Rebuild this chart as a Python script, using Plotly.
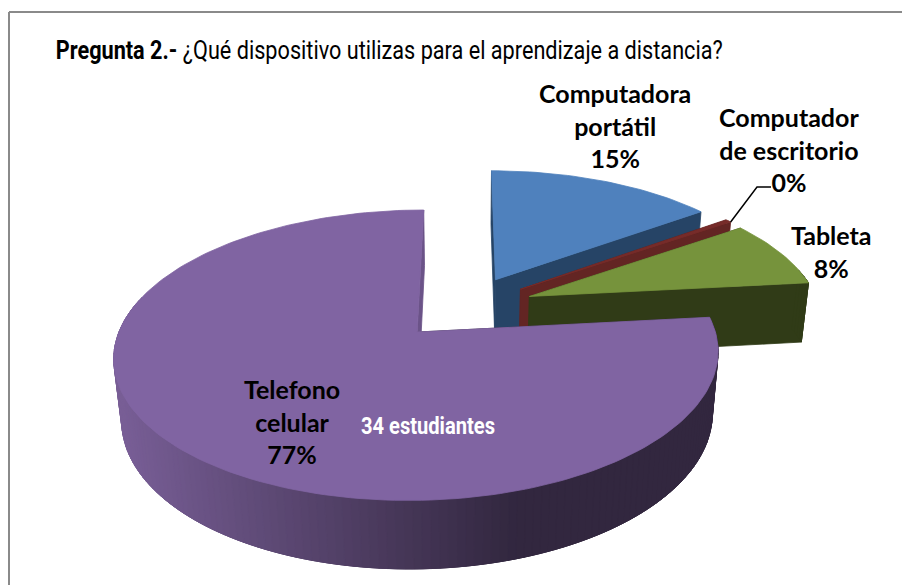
import numpy as np
import plotly.graph_objects as go

# ---- data ----
categories = ["Computadora portátil", "Computador de escritorio", "Tableta", "Telefono celular"]
shares = [15, 0.4, 8, 77]
percent_labels = ["15%", "0%", "8%", "77%"]
students_note = "34 estudiantes"
title_bold = "Pregunta 2.-"
title_rest = "¿Qué dispositivo utilizas para el aprendizaje a distancia?"

# ---- styles ----
top_colors = ["#4F81BD", "#772C2A", "#76933C", "#8064A2"]
wall_colors = ["#264466", "#632523", "#303B17", None]
wall_light, wall_dark = (120, 94, 150), (50, 39, 63)

# ---- 3D pie projection (world -> page pixels) ----
X0, Y0, CX, BY, K, Q, H = 465, 307.5, 290, 133.8, 0.155, 0.022, 61.8
EXPLODE = 0.24


def project(x, y, top=True):
    z = 0 if top else 1
    w = 1 + K * y + Q * z
    return X0 + CX * x / w, Y0 + (-BY * y + H * z) / w


fig = go.Figure()


def poly(xs, ys, color):
    fig.add_trace(go.Scatter(x=xs, y=ys, mode="lines", fill="toself", fillcolor=color,
                             line=dict(color=color, width=0.8), hoverinfo="skip", showlegend=False))


fractions = np.array(shares, dtype=float) / sum(shares)
edges = np.concatenate([[0], np.cumsum(fractions)]) * 2 * np.pi
red_rim = None
for i, name in enumerate(categories):
    a0, a1 = edges[i], edges[i + 1]
    mid = (a0 + a1) / 2
    ex, ey = EXPLODE * np.sin(mid), EXPLODE * np.cos(mid)
    arc = np.linspace(a0, a1, max(8, int((a1 - a0) * 40)))
    rx, ry = ex + np.sin(arc), ey + np.cos(arc)
    wall = wall_colors[i]

    # radial walls
    for a, col in ((a0, wall or "#332840"), (a1, wall or "#6b5388")):
        px, py = ex + np.sin(a), ey + np.cos(a)
        t = [project(ex, ey), project(px, py), project(px, py, False), project(ex, ey, False)]
        poly([p[0] for p in t] + [t[0][0]], [p[1] for p in t] + [t[0][1]], col)

    # outer wall, shaded in overlapping strips
    for j in range(len(arc) - 1):
        if np.cos(arc[j]) > 0.2 and np.cos(arc[j + 1]) > 0.2:
            continue
        k = min(j + 3, len(arc) - 1)
        p = [project(rx[j], ry[j]), project(rx[k], ry[k]),
             project(rx[k], ry[k], False), project(rx[j], ry[j], False)]
        if wall:
            col = wall
        else:
            f = min(max((p[0][0] - 120) / 400, 0), 1)
            rgb = [round(wall_light[c] + (wall_dark[c] - wall_light[c]) * f) for c in range(3)]
            col = "rgb(%d,%d,%d)" % tuple(rgb)
        poly([q[0] for q in p] + [p[0][0]], [q[1] for q in p] + [p[0][1]], col)

    # top face
    ax, ay = project(ex, ey)
    tx, ty = project(rx, ry)
    poly([ax, *tx, ax], [ay, *ty, ay], top_colors[i])

    if i == 1:
        red_rim = project(ex + np.sin(a1), ey + np.cos(a1))

# leader line of the 0% label
fig.add_trace(go.Scatter(x=[red_rim[0], 757, 771], y=[red_rim[1], 187, 187], mode="lines",
                         line=dict(color="black", width=1.5), hoverinfo="skip", showlegend=False))

LABEL_FONT = dict(family="Lato", size=25, color="black")
NARROW = "Roboto"
labels = [
    ("Computadora<br>portátil<br>" + percent_labels[0], 615, 125),
    ("Computador<br>de escritorio<br>" + percent_labels[1], 789, 149),
    ("Tableta<br>" + percent_labels[2], 831, 251),
    ("Telefono<br>celular<br>" + percent_labels[3], 292, 421),
]
annotations = [dict(x=x, y=y, text="<b>%s</b>" % t, showarrow=False, font=LABEL_FONT,
                    xanchor="center", yanchor="middle", xref="x", yref="y") for t, x, y in labels]
annotations += [
    dict(x=428, y=426, text="<b>%s</b>" % students_note, showarrow=False,
         font=dict(family=NARROW, size=24, color="white"), xanchor="center", yanchor="middle", xref="x", yref="y"),
    dict(x=388.5, y=50, text="<b>%s</b> %s" % (title_bold, title_rest), showarrow=False,
         font=dict(family=NARROW, size=26, color="black"), xanchor="center", yanchor="middle", xref="x", yref="y"),
]

fig.update_layout(
    width=902, height=585, margin=dict(l=0, r=0, t=0, b=0),
    paper_bgcolor="white", plot_bgcolor="white", showlegend=False,
    xaxis=dict(range=[0, 902], visible=False, fixedrange=True),
    yaxis=dict(range=[585, 0], visible=False, fixedrange=True),
    annotations=annotations,
    shapes=[
        dict(type="line", xref="x", yref="y", x0=9, x1=9, y0=12, y1=585, line=dict(color="#8a8a8a", width=2)),
        dict(type="line", xref="x", yref="y", x0=9, x1=902, y0=12, y1=12, line=dict(color="#8a8a8a", width=2)),
    ],
)

# The reference text is a tall condensed face: narrow real text to its measured widths.
post = """
document.body.style.margin = '0';
var widths = {'%s %s': 667, '%s': 134};
function fitTexts() {
  document.querySelectorAll('text.annotation-text').forEach(function (t) {
    var w = widths[t.textContent];
    if (w) { t.setAttribute('textLength', w); t.setAttribute('lengthAdjust', 'spacingAndGlyphs'); }
  });
}
fitTexts();
setTimeout(fitTexts, 50);
setTimeout(fitTexts, 300);
""" % (title_bold, title_rest, students_note)
fig.write_html("out.html", post_script=post, config=dict(displayModeBar=False))
